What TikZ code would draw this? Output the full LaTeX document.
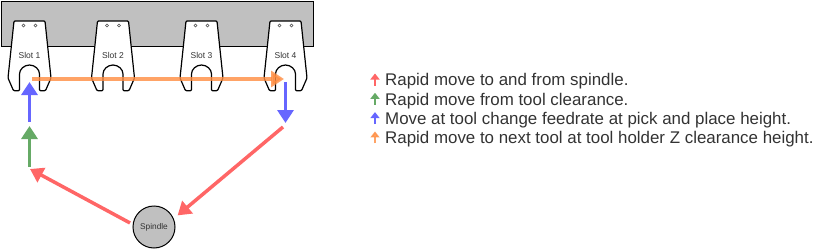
\documentclass[tikz,border=0pt]{standalone}
\usepackage{fontspec}
\setmainfont{Liberation Sans}
\usepackage{tikz}
\usetikzlibrary{arrows.meta,positioning}
\definecolor{tcred}{HTML}{FF6666}
\definecolor{tcgreen}{HTML}{66AA66}
\definecolor{tcblue}{HTML}{6666FF}
\definecolor{tcorange}{HTML}{FF8C40}
\definecolor{tcgray}{HTML}{C0C0C0}
\definecolor{tctext}{HTML}{333333}
\tikzset{
  rackbar/.style={
    draw=black, fill=tcgray, line width=1pt,
    minimum width=312pt, minimum height=45pt, inner sep=0pt
  },
  holder/.style={draw=black, fill=white, line width=1.2pt,
    line join=round, rounded corners=1pt},
  holderhole/.style={draw=black!70, fill=white, line width=0.5pt},
  slotlabel/.style={font=\fontsize{8.5}{10}\selectfont\color{tctext},
    inner sep=0pt},
  spindlebox/.style={
    circle, draw=black, fill=tcgray, line width=1pt,
    minimum size=42pt, inner sep=0pt,
    font=\fontsize{8.3}{10}\selectfont\color{tctext}
  },
  movearr/.style={-{Triangle[length=13pt,width=16pt]}, draw=#1,
    line width=3.5pt, color=#1},
  keyarr/.style={-{Triangle[length=6pt,width=9pt]}, draw=#1,
    line width=2pt, color=#1},
  keytext/.style={anchor=west, inner sep=0pt,
    font=\fontsize{16.9}{19}\selectfont\color{tctext}}
}

\begin{document}
\begin{tikzpicture}[x=1pt,y=-1pt]
  \useasboundingbox (0,0) rectangle (814,249);

  %% ---- Tool rack ----
  \node[rackbar] (rack) at (157,23.5) {};

  %% ---- Tool holders ----
  \foreach \i/\cx in {1/29.5,2/113,3/201.5,4/285.5}{
    \draw[holder] (\cx-15.5,21) -- (\cx+15.5,21) -- (\cx+21.5,78)
      -- (\cx+16,90.7) -- (\cx+10,90.7) -- (\cx+10,75)
      arc[start angle=0, end angle=-180, radius=10]
      -- (\cx-10,90.7) -- (\cx-16,90.7) -- (\cx-21.5,78) -- cycle;
    \draw[holderhole] (\cx-6,25.5) circle[radius=1.5];
    \draw[holderhole] (\cx+6,25.5) circle[radius=1.5];
    \node[slotlabel] (slot\i) at (\cx,55) {Slot \i};
  }

  %% ---- Spindle ----
  \node[spindlebox] (spindle) at (154,227) {Spindle};

  %% Move points
  \coordinate (pick1)  at (29.5,82);
  \coordinate (lift1)  at (29.5,122);
  \coordinate (clr1)   at (29.5,126);
  \coordinate (clr1b)  at (29.5,167);
  \coordinate (over1)  at (30,169);
  \coordinate (start1) at (32,79);
  \coordinate (seat4)  at (284,79);
  \coordinate (pick4)  at (285.5,82);
  \coordinate (drop4)  at (285.5,123);
  \coordinate (away4)  at (283,127);

  %% Moves
  \draw[movearr=tcred, shorten <=3pt] (spindle.173) -- (over1);
  \draw[movearr=tcgreen] (clr1b) -- (clr1);
  \draw[movearr=tcblue] (lift1) -- (pick1);
  \draw[movearr=tcorange, draw opacity=0.8, fill opacity=0.8] (start1) -- (seat4);
  \draw[movearr=tcblue] (pick4) -- (drop4);
  \draw[movearr=tcred, shorten >=5pt] (away4) -- (spindle.23);

  %% ---- Legend ----
  \node[keytext] (key1) at (385,81.5) {Rapid move to and from spindle.};
  \node[keytext] (key2) at (385,100.8) {Rapid move from tool clearance.};
  \node[keytext] (key3) at (385,120.1)
    {Move at tool change feedrate at pick and place height.};
  \node[keytext] (key4) at (385,139.4)
    {Rapid move to next tool at tool holder Z clearance height.};

  \draw[keyarr=tcred]    ([xshift=-10pt,yshift=-4pt]key1.west) -- ([xshift=-10pt,yshift=8pt]key1.west);
  \draw[keyarr=tcgreen]  ([xshift=-10pt,yshift=-4pt]key2.west) -- ([xshift=-10pt,yshift=8pt]key2.west);
  \draw[keyarr=tcblue]   ([xshift=-10pt,yshift=-4pt]key3.west) -- ([xshift=-10pt,yshift=8pt]key3.west);
  \draw[keyarr=tcorange, draw opacity=0.8, fill opacity=0.8]
    ([xshift=-10pt,yshift=-4pt]key4.west) -- ([xshift=-10pt,yshift=8pt]key4.west);

\end{tikzpicture}
\end{document}
